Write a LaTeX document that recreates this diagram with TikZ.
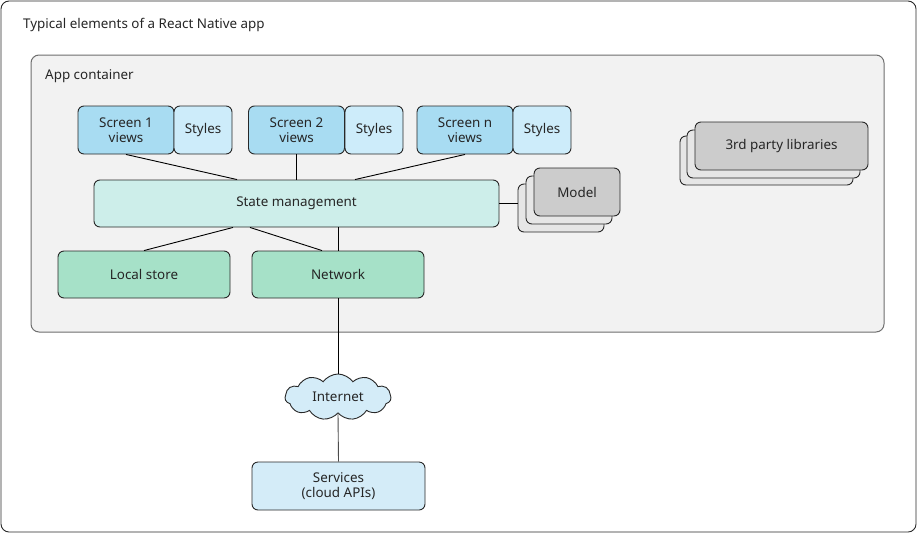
\documentclass[tikz,border=0pt]{standalone}
\usepackage{fontspec}
\setmainfont{Noto Sans}
\usetikzlibrary{shapes.symbols,calc}
\definecolor{viewblue}{RGB}{168,220,242}
\definecolor{styleblue}{RGB}{205,236,250}
\definecolor{stateteal}{RGB}{205,238,234}
\definecolor{greenbox}{RGB}{166,225,200}
\definecolor{svcblue}{RGB}{212,236,248}
\definecolor{grayfront}{RGB}{204,204,204}
\definecolor{grayback}{RGB}{230,230,230}
\definecolor{contfill}{RGB}{242,242,242}
\definecolor{contline}{RGB}{110,110,110}
\definecolor{edge}{RGB}{40,40,40}
\tikzset{
  lbl/.style={font=\fontsize{13.4}{15}\selectfont, text=black!85},
  box/.style={draw=edge, line width=0.9pt, rounded corners=6pt, inner sep=0pt,
    align=center, lbl},
  viewbox/.style={box, fill=viewblue, minimum width=96pt, minimum height=48pt},
  stylebox/.style={box, fill=styleblue, minimum width=58pt, minimum height=48pt},
  backbox/.style={box, draw=edge, fill=grayback},
  conn/.style={draw=black, line width=0.9pt},
}
\begin{document}
\begin{tikzpicture}[x=1pt,y=-1pt]
\useasboundingbox (0,0) rectangle (917,533);
% outer frame
\draw[draw=edge, line width=0.9pt, rounded corners=8pt, fill=white] (1,1) rectangle (916,532);
\node[anchor=west, lbl, inner sep=0pt] (title) at (23,25) {Typical elements of a React Native app};
% app container
\draw[draw=contline, line width=1pt, rounded corners=8pt, fill=contfill] (31,55) rectangle (884,332);
\node[anchor=west, lbl, inner sep=0pt] (cont) at (45,76) {App container};

% screens
\node[viewbox] (s1) at (126,130) {Screen 1\\views};
\node[stylebox] (st1) at (203,130) {Styles};
\node[viewbox] (s2) at (296.5,130) {Screen 2\\views};
\node[stylebox] (st2) at (374,130) {Styles};
\node[viewbox] (sn) at (465,130) {Screen n\\views};
\node[stylebox] (stn) at (542,130) {Styles};

% state management
\node[box, fill=stateteal, minimum width=405pt, minimum height=47pt] (state) at (296.5,203.5) {State management};

% model stack
\node[backbox, minimum width=86pt, minimum height=48pt] (m3) at (561,208) {};
\node[backbox, minimum width=86pt, minimum height=48pt] (m2) at (569,200) {};
\node[box, fill=grayfront, minimum width=86pt, minimum height=48pt] (model) at (577,192) {Model};

% 3rd party stack
\node[backbox, minimum width=173pt, minimum height=49pt] (l3) at (766.5,160.5) {};
\node[backbox, minimum width=173pt, minimum height=48pt] (l2) at (773.5,154) {};
\node[box, fill=grayfront, minimum width=173pt, minimum height=48pt] (libs) at (781.5,146) {3rd party libraries};

% local store, network
\node[box, fill=greenbox, minimum width=172pt, minimum height=47pt] (local) at (144,274.5) {Local store};
\node[box, fill=greenbox, minimum width=172pt, minimum height=47pt] (net) at (338,274.5) {Network};

% internet cloud
\node[draw=edge, line width=0.9pt, fill=svcblue, shape=cloud, cloud puffs=11, cloud puff arc=110, aspect=2.4,
  minimum width=106pt, minimum height=46pt, inner sep=0pt, lbl] (inet) at (338,397) {Internet};

% services
\node[box, fill=svcblue, minimum width=173pt, minimum height=48pt] (svc) at (338.5,486) {Services\\(cloud APIs)};

% connectors
\draw[conn] (s1.south) -- ([xshift=-59.5pt]state.north);
\draw[conn] (s2.south) -- (state.north);
\draw[conn] (sn.south) -- ([xshift=58.5pt]state.north);
\draw[conn] (state.east) -- (m3.west |- state.east);
\draw[conn] ([xshift=-63.5pt]state.south) -- (local.north);
\draw[conn] ([xshift=-46.5pt]state.south) -- ([xshift=-16pt]net.north);
\draw[conn] (net.north |- state.south) -- (net.north);
\draw[conn] (net.south) -- (inet.north);
\draw[conn, draw=black!70] (inet.south) -- (svc.north);
\end{tikzpicture}
\end{document}
